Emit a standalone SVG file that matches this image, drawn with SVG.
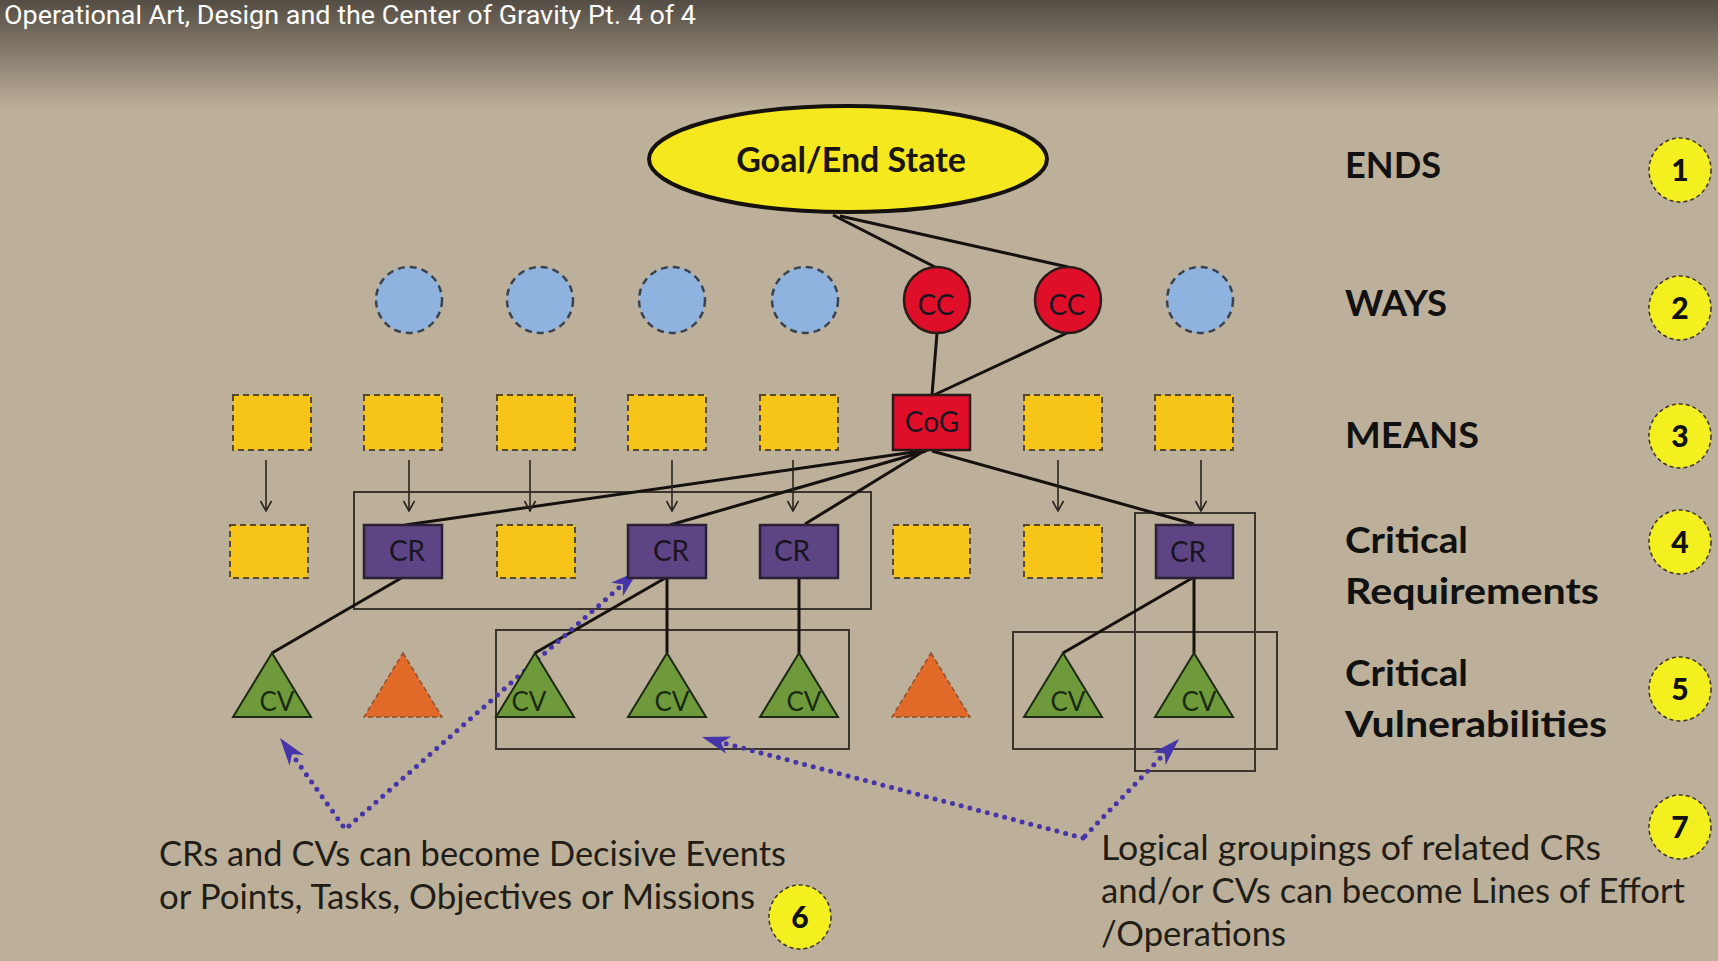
<svg xmlns="http://www.w3.org/2000/svg" width="1718" height="961" viewBox="0 0 1718 961">
<defs>
<linearGradient id="bg" x1="0" y1="0" x2="0" y2="1">
<stop offset="0" stop-color="#544d44"/>
<stop offset="1" stop-color="#bdb09a"/>
</linearGradient>
<marker id="ah" viewBox="0 0 14 14" refX="13" refY="7" markerWidth="14" markerHeight="14" markerUnits="userSpaceOnUse" orient="auto">
<path d="M3,1.5 L13,7 L3,12.5" fill="none" stroke="#2a2520" stroke-width="1.6"/>
</marker>
<marker id="pa" viewBox="0 0 30 20" refX="28" refY="10" markerWidth="30" markerHeight="20" markerUnits="userSpaceOnUse" orient="auto">
<path d="M0,1 L28,10 L0,19 L8,10 Z" fill="#4535a8"/>
</marker>
<style>
text{font-family:Lato,"Liberation Sans",sans-serif}
.lbl{font-size:37px;font-weight:bold;fill:#111}
.num{font-size:30px;font-weight:900;fill:#111;text-anchor:middle}
.ncirc{fill:#f4ef1e;stroke:#3a3520;stroke-width:1.5;stroke-dasharray:4 3}
.blue{fill:#8fb3df;stroke:#3b4250;stroke-width:2.5;stroke-dasharray:7 5}
.cc{fill:#df0f2a;stroke:#2a1a1a;stroke-width:2.5}
.mean{fill:#f6c518;stroke:#5a4a2a;stroke-width:2;stroke-dasharray:6 4}
.cog{fill:#df0f2a;stroke:#2a1a1a;stroke-width:2.5}
.cr{fill:#5d4585;stroke:#2a2035;stroke-width:2.5}
.cv{fill:#6f9a3b;stroke:#1f2a15;stroke-width:2}
.orng{fill:#e26a28;stroke:#8a5030;stroke-width:1.5;stroke-dasharray:5 3}
.ntxt{font-size:28px;fill:#1a1420;text-anchor:middle}
.cvt{font-size:26px;fill:#1a2a10;text-anchor:middle}
.grp{fill:none;stroke:#3a342c;stroke-width:2}
.ln{fill:none;stroke:#14110e;stroke-width:3}
.arr{fill:none;stroke:#2a2520;stroke-width:1.6}
.dot{fill:none;stroke:#4535a8;stroke-width:5;stroke-linecap:round;stroke-dasharray:0 9}
.note{font-size:34px;fill:#221d16}
</style>
</defs>
<rect x="0" y="0" width="1718" height="961" fill="#bdb09a"/>
<rect x="0" y="0" width="1718" height="110" fill="url(#bg)"/>
<text x="4" y="24" font-size="26" fill="#ffffff" textLength="692" lengthAdjust="spacingAndGlyphs" style="font-family:Roboto,sans-serif">Operational Art, Design and the Center of Gravity Pt. 4 of 4</text>

<g id="groups">
<rect class="grp" x="354" y="492" width="517" height="117"/>
<rect class="grp" x="496" y="630" width="353" height="119"/>
<rect class="grp" x="1135" y="513" width="120" height="258"/>
<rect class="grp" x="1013" y="632" width="264" height="117"/>
</g>

<g id="connectors">
<line class="ln" x1="833" y1="215" x2="935" y2="267"/>
<line class="ln" x1="840" y1="216" x2="1068" y2="267"/>
<line class="ln" x1="937" y1="333" x2="932" y2="395"/>
<line class="ln" x1="1067" y1="333" x2="934" y2="395"/>
<line class="ln" x1="928" y1="450" x2="405" y2="525"/>
<line class="ln" x1="926" y1="451" x2="670" y2="525"/>
<line class="ln" x1="924" y1="451" x2="805" y2="524"/>
<line class="ln" x1="932" y1="451" x2="1194" y2="524"/>
<line class="ln" x1="403" y1="577" x2="272" y2="653"/>
<line class="ln" x1="667" y1="577" x2="535" y2="653"/>
<line class="ln" x1="667" y1="577" x2="667" y2="653"/>
<line class="ln" x1="799" y1="577" x2="799" y2="653"/>
<line class="ln" x1="1194" y1="577" x2="1063" y2="653"/>
<line class="ln" x1="1194" y1="577" x2="1194" y2="653"/>
<line class="arr" x1="266" y1="460" x2="266" y2="511" marker-end="url(#ah)"/>
<line class="arr" x1="409" y1="460" x2="409" y2="511" marker-end="url(#ah)"/>
<line class="arr" x1="530" y1="460" x2="530" y2="511" marker-end="url(#ah)"/>
<line class="arr" x1="672" y1="460" x2="672" y2="511" marker-end="url(#ah)"/>
<line class="arr" x1="793" y1="460" x2="793" y2="511" marker-end="url(#ah)"/>
<line class="arr" x1="1058" y1="460" x2="1058" y2="511" marker-end="url(#ah)"/>
<line class="arr" x1="1201" y1="460" x2="1201" y2="511" marker-end="url(#ah)"/>
<line class="dot" x1="343" y1="826" x2="286" y2="746"/>
<line class="dot" x1="349" y1="826" x2="630" y2="578"/>
<line class="dot" x1="1083" y1="838" x2="712" y2="740"/>
<line class="dot" x1="1085" y1="836" x2="1172" y2="746"/>
<path d="M286,746 L280,738" stroke="none" fill="none" marker-end="url(#pa)"/>
<path d="M630,578 L638,571" stroke="none" fill="none" marker-end="url(#pa)"/>
<path d="M712,740 L702,737" stroke="none" fill="none" marker-end="url(#pa)"/>
<path d="M1172,746 L1179,739" stroke="none" fill="none" marker-end="url(#pa)"/>
</g>

<g id="goal">
<ellipse cx="848" cy="159" rx="199" ry="53" fill="#f6e81e" stroke="#14110e" stroke-width="4"/>
<text x="851" y="172" font-size="34" font-weight="bold" fill="#1a1510" text-anchor="middle">Goal/End State</text>
</g>

<g id="ways">
<circle class="blue" cx="409" cy="300" r="33"/>
<circle class="blue" cx="540" cy="300" r="33"/>
<circle class="blue" cx="672" cy="300" r="33"/>
<circle class="blue" cx="805" cy="300" r="33"/>
<circle class="blue" cx="1200" cy="300" r="33"/>
</g>
<g id="cc1"><circle class="cc" cx="937" cy="300" r="33"/><text class="ntxt" x="936" y="315">CC</text></g>
<g id="cc2"><circle class="cc" cx="1068" cy="300" r="33"/><text class="ntxt" x="1067" y="315">CC</text></g>

<g id="means">
<rect class="mean" x="233" y="395" width="78" height="55"/>
<rect class="mean" x="364" y="395" width="78" height="55"/>
<rect class="mean" x="497" y="395" width="78" height="55"/>
<rect class="mean" x="628" y="395" width="78" height="55"/>
<rect class="mean" x="760" y="395" width="78" height="55"/>
<rect class="mean" x="1024" y="395" width="78" height="55"/>
<rect class="mean" x="1155" y="395" width="78" height="55"/>
</g>
<g id="cog"><rect class="cog" x="893" y="395" width="77" height="55"/><text class="ntxt" x="932" y="432">CoG</text></g>

<g id="reqs">
<rect class="mean" x="230" y="525" width="78" height="53"/>
<rect class="mean" x="497" y="525" width="78" height="53"/>
<rect class="mean" x="893" y="525" width="77" height="53"/>
<rect class="mean" x="1024" y="525" width="78" height="53"/>
</g>
<g id="cr1"><rect class="cr" x="364" y="525" width="78" height="53"/><text class="ntxt" x="407" y="561">CR</text></g>
<g id="cr2"><rect class="cr" x="628" y="525" width="78" height="53"/><text class="ntxt" x="671" y="561">CR</text></g>
<g id="cr3"><rect class="cr" x="760" y="525" width="78" height="53"/><text class="ntxt" x="792" y="561">CR</text></g>
<g id="cr4"><rect class="cr" x="1156" y="525" width="77" height="53"/><text class="ntxt" x="1188" y="562">CR</text></g>

<g id="vulns">
<polygon class="orng" points="403,653 442,717 364,717"/>
<polygon class="orng" points="931,653 970,717 892,717"/>
</g>
<g id="cv1"><polygon class="cv" points="272,653 311,717 233,717"/><text class="cvt" x="277" y="711">CV</text></g>
<g id="cv2"><polygon class="cv" points="535,653 574,717 496,717"/><text class="cvt" x="529" y="711">CV</text></g>
<g id="cv3"><polygon class="cv" points="667,653 706,717 628,717"/><text class="cvt" x="672" y="711">CV</text></g>
<g id="cv4"><polygon class="cv" points="799,653 838,717 760,717"/><text class="cvt" x="804" y="711">CV</text></g>
<g id="cv5"><polygon class="cv" points="1063,653 1102,717 1024,717"/><text class="cvt" x="1068" y="711">CV</text></g>
<g id="cv6"><polygon class="cv" points="1194,653 1233,717 1155,717"/><text class="cvt" x="1199" y="711">CV</text></g>

<g id="labels">
<text class="lbl" x="1345" y="178" textLength="96" lengthAdjust="spacingAndGlyphs">ENDS</text>
<text class="lbl" x="1345" y="316" textLength="102" lengthAdjust="spacingAndGlyphs">WAYS</text>
<text class="lbl" x="1345" y="448" textLength="134" lengthAdjust="spacingAndGlyphs">MEANS</text>
<text class="lbl" x="1345" y="553" textLength="123" lengthAdjust="spacingAndGlyphs">Critical</text>
<text class="lbl" x="1345" y="604" textLength="254" lengthAdjust="spacingAndGlyphs">Requirements</text>
<text class="lbl" x="1345" y="686" textLength="123" lengthAdjust="spacingAndGlyphs">Critical</text>
<text class="lbl" x="1345" y="737" textLength="262" lengthAdjust="spacingAndGlyphs">Vulnerabilities</text>
</g>

<g id="numbers">
<g id="n1"><ellipse class="ncirc" cx="1680" cy="170" rx="31" ry="32"/><text class="num" x="1680" y="181">1</text></g>
<g id="n2"><ellipse class="ncirc" cx="1680" cy="308" rx="31" ry="32"/><text class="num" x="1680" y="319">2</text></g>
<g id="n3"><ellipse class="ncirc" cx="1680" cy="436" rx="31" ry="32"/><text class="num" x="1680" y="447">3</text></g>
<g id="n4"><ellipse class="ncirc" cx="1680" cy="542" rx="31" ry="32"/><text class="num" x="1680" y="553">4</text></g>
<g id="n5"><ellipse class="ncirc" cx="1680" cy="689" rx="31" ry="32"/><text class="num" x="1680" y="700">5</text></g>
<g id="n7"><ellipse class="ncirc" cx="1680" cy="827" rx="31" ry="32"/><text class="num" x="1680" y="838">7</text></g>
<g id="n6"><ellipse class="ncirc" cx="800" cy="917" rx="31" ry="32"/><text class="num" x="800" y="928">6</text></g>
</g>

<g id="notes">
<text class="note" x="159" y="866" textLength="627" lengthAdjust="spacingAndGlyphs">CRs and CVs can become Decisive Events</text>
<text class="note" x="159" y="909" textLength="596" lengthAdjust="spacingAndGlyphs">or Points, Tasks, Objectives or Missions</text>
<text class="note" x="1101" y="860" textLength="500" lengthAdjust="spacingAndGlyphs">Logical groupings of related CRs</text>
<text class="note" x="1101" y="903" textLength="584" lengthAdjust="spacingAndGlyphs">and/or CVs can become Lines of Effort</text>
<text class="note" x="1101" y="946" textLength="185" lengthAdjust="spacingAndGlyphs">/Operations</text>
</g>
</svg>
